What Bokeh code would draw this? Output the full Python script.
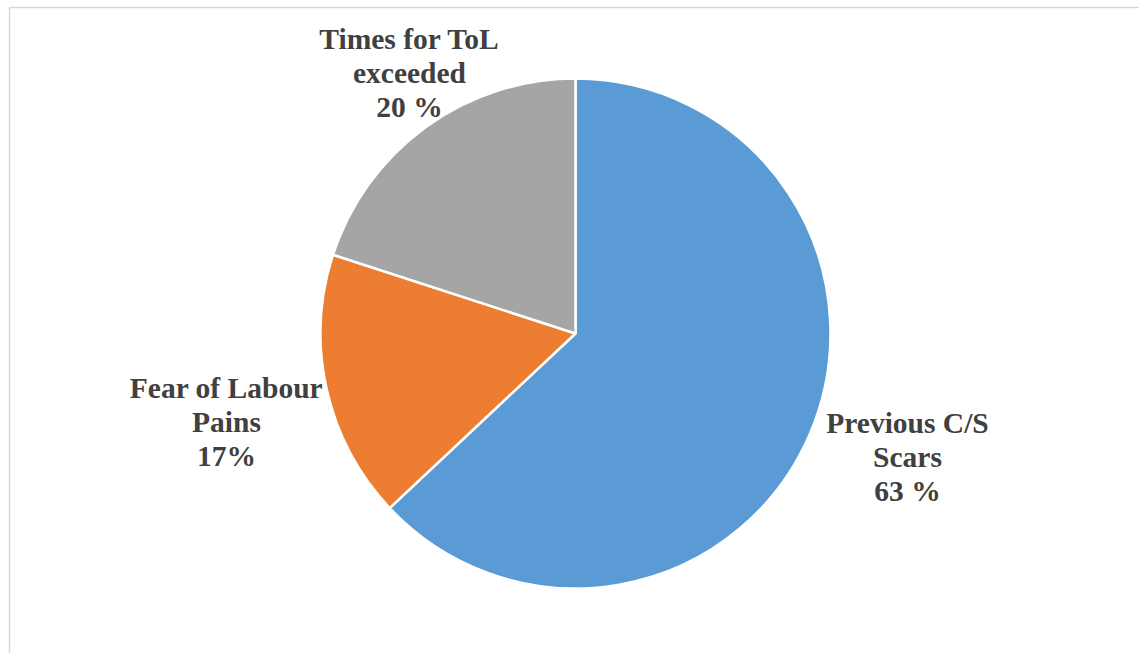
import math
from bokeh.plotting import figure
from bokeh.models import ColumnDataSource, Range1d
from bokeh.core.properties import value
from bokeh.embed import file_html
from bokeh.resources import INLINE

categories = ["Previous C/S Scars", "Fear of Labour Pains", "Times for ToL exceeded"]
shares = [63, 17, 20]
label_lines = [["Previous C/S", "Scars", "63 %"],
               ["Fear of Labour", "Pains", "17%"],
               ["Times for ToL", "exceeded", "20 %"]]
colors = ["#5B9BD5", "#ED7D31", "#A5A5A5"]

W, H = 1139, 653
cx, cy, r = 575, H - 333, 255

total = sum(shares)
starts, ends = [], []
acc = 0.0
for s in shares:
    starts.append(math.pi / 2 - 2 * math.pi * acc / total)
    acc += s
    ends.append(math.pi / 2 - 2 * math.pi * acc / total)

p = figure(width=W, height=H, output_backend="svg", toolbar_location=None,
           x_range=Range1d(0, W), y_range=Range1d(0, H), min_border=0)
p.axis.visible = False
p.grid.visible = False
p.outline_line_color = None
p.background_fill_color = "white"
p.border_fill_color = "white"

# chart frame
p.quad(left=[9], right=[W + 5], top=[H - 7], bottom=[-5], fill_color=None,
       line_color="#D9D9D9", line_width=1.5)

src = ColumnDataSource(dict(start=starts, end=ends, color=colors, cat=categories))
p.wedge(x=cx, y=cy, radius=r, start_angle="start", end_angle="end", direction="clock",
        fill_color="color", line_color="white", line_width=2.5, source=src)

# label anchors (pixel centers of the three label blocks)
label_x = [907, 226, 409]
label_top = [422, 387, 38]
line_gap = 34
xs, ys, ts = [], [], []
for lx, lt, lines in zip(label_x, label_top, label_lines):
    for i, t in enumerate(lines):
        xs.append(lx)
        ys.append(H - (lt + i * line_gap))
        ts.append(t)
p.text(x=xs, y=ys, text=ts, text_font=value("Liberation Serif"), text_font_style="bold",
       text_font_size="29.5px", text_color="#404040", text_align="center",
       text_baseline="middle")

open("out.html", "w").write(file_html(p, INLINE))
